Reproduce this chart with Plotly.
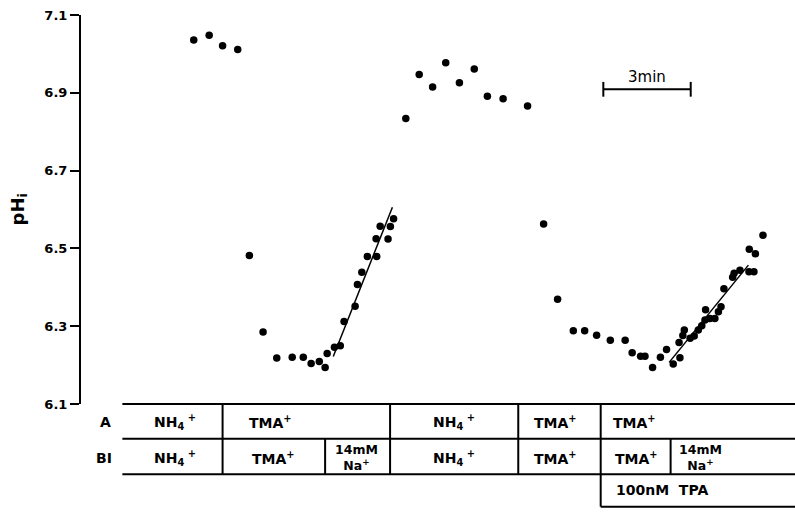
import plotly.graph_objects as go

# ---------------- data (time in minutes, pHi) ----------------
t_pts = [3.87, 4.40, 4.86, 5.38,
         5.78, 6.25, 6.72, 7.25, 7.63, 7.90, 8.18, 8.38, 8.45, 8.70, 8.90, 9.03,
         9.41, 9.49, 9.64, 9.83, 10.15, 10.13, 10.54, 10.27, 10.62, 10.73,
         11.15, 11.61, 12.07, 12.52, 12.99, 13.50, 13.95, 14.49, 15.33,
         15.88, 16.36, 16.90, 17.29, 17.70, 18.17, 18.68, 18.92, 19.21, 19.36,
         19.62, 19.89, 20.10, 20.33, 20.56, 20.53, 20.66, 20.71, 20.91, 21.05,
         21.19, 21.31, 21.42, 21.44, 21.59, 21.76, 21.88, 21.97, 22.07, 22.37,
         22.42, 22.62, 22.93, 23.10, 22.94, 23.15, 23.41]
ph_pts = [7.036, 7.048, 7.021, 7.011,
          6.482, 6.285, 6.218, 6.220, 6.220, 6.204, 6.209, 6.194, 6.230, 6.246, 6.250, 6.312,
          6.351, 6.407, 6.439, 6.479, 6.479, 6.525, 6.524, 6.557, 6.556, 6.576,
          6.834, 6.947, 6.915, 6.977, 6.926, 6.961, 6.891, 6.885, 6.866,
          6.563, 6.369, 6.288, 6.288, 6.277, 6.264, 6.264, 6.232, 6.223, 6.223,
          6.194, 6.220, 6.240, 6.203, 6.219, 6.258, 6.276, 6.290, 6.269, 6.275,
          6.290, 6.301, 6.316, 6.342, 6.320, 6.320, 6.337, 6.350, 6.396, 6.426,
          6.436, 6.444, 6.440, 6.440, 6.498, 6.486, 6.534]

fit1_t = [8.66, 10.69]
fit1_ph = [6.222, 6.606]
fit2_t = [20.19, 22.91]
fit2_ph = [6.207, 6.457]

scale_t = [17.93, 20.93]   # 3 min scale bar
scale_ph = 6.909
scale_label = "3min"

y_ticks = [6.1, 6.3, 6.5, 6.7, 6.9, 7.1]
x_range = [0, 24.51]

# solution protocol table (time boundaries, minutes)
table_start = 1.42
rowA_bounds = [4.86, 10.61, 15.01, 17.84]
rowB_bounds = [4.86, 8.38, 10.61, 15.01, 17.84, 20.24]
rowC_start = 17.84
rowA_text = [(3.24, "NH<sub>4</sub><sup> +</sup>"), (6.52, "TMA<sup>+</sup>"),
             (12.82, "NH<sub>4</sub><sup> +</sup>"), (16.30, "TMA<sup>+</sup>"),
             (19.00, "TMA<sup>+</sup>")]
rowB_text = [(3.24, "NH<sub>4</sub><sup> +</sup>"), (6.61, "TMA<sup>+</sup>"),
             (9.47, "14mM<br>Na<sup>+</sup>"), (12.82, "NH<sub>4</sub><sup> +</sup>"),
             (16.30, "TMA<sup>+</sup>"), (19.06, "TMA<sup>+</sup>"),
             (21.26, "14mM<br>Na<sup>+</sup>")]
rowC_text = [(19.95, "100nM  TPA")]
row_labels = ["A", "BI"]

# ---------------- figure ----------------
W, H = 795, 512
ML, MR, MT, MB = 81, 0, 15, 108
plot_h = H - MT - MB

def px_x(t):
    return (t - x_range[0]) / (x_range[1] - x_range[0])

def py(pix_below_top_of_table):
    return -pix_below_top_of_table / plot_h

fig = go.Figure()
fig.add_trace(go.Scatter(x=t_pts, y=ph_pts, mode="markers",
                         marker=dict(color="black", size=7.5), cliponaxis=False,
                         showlegend=False))
fig.add_trace(go.Scatter(x=fit1_t, y=fit1_ph, mode="lines",
                         line=dict(color="black", width=1.5), showlegend=False))
fig.add_trace(go.Scatter(x=fit2_t, y=fit2_ph, mode="lines",
                         line=dict(color="black", width=1.5), showlegend=False))

shapes = []
line_style = dict(color="black", width=2)
# scale bar
shapes.append(dict(type="line", xref="x", yref="y", x0=scale_t[0], x1=scale_t[1],
                   y0=scale_ph, y1=scale_ph, line=line_style))
for st in scale_t:
    shapes.append(dict(type="line", xref="x", yref="y", x0=st, x1=st,
                       y0=scale_ph - 0.019, y1=scale_ph + 0.019, line=line_style))

yA_top, yA_bot, yB_bot, yC_bot = py(0), py(34.7), py(70.3), py(102.7)
for yy in (yA_top, yA_bot, yB_bot):
    shapes.append(dict(type="line", xref="paper", yref="paper",
                       x0=px_x(table_start), x1=1.0, y0=yy, y1=yy, line=line_style))
shapes.append(dict(type="line", xref="paper", yref="paper",
                   x0=px_x(rowC_start), x1=1.0, y0=yC_bot, y1=yC_bot, line=line_style))
for b in rowA_bounds:
    shapes.append(dict(type="line", xref="paper", yref="paper", x0=px_x(b), x1=px_x(b),
                       y0=yA_top, y1=yA_bot, line=line_style))
for b in rowB_bounds:
    shapes.append(dict(type="line", xref="paper", yref="paper", x0=px_x(b), x1=px_x(b),
                       y0=yA_bot, y1=yB_bot, line=line_style))
shapes.append(dict(type="line", xref="paper", yref="paper", x0=px_x(rowC_start),
                   x1=px_x(rowC_start), y0=yB_bot, y1=yC_bot, line=line_style))

FONT = "DejaVu Sans"
ann = []
def add_text(xp, yp, text, size=14, bold=True):
    ann.append(dict(xref="paper", yref="paper", x=xp, y=yp, text=(f"<b>{text}</b>" if bold else text),
                    showarrow=False, xanchor="center", yanchor="middle",
                    font=dict(family=FONT, size=size, color="black")))

yA_mid, yB_mid, yC_mid = py(18), py(53.5), py(86.5)
for t, s in rowA_text:
    add_text(px_x(t), yA_mid, s)
for t, s in rowB_text:
    if "14mM" in s:
        ann.append(dict(xref="paper", yref="paper", x=px_x(t), y=yB_mid, text=f"<b>{s}</b>",
                        showarrow=False, xanchor="center", yanchor="middle",
                        font=dict(family=FONT, size=12.5, color="black")))
    else:
        add_text(px_x(t), yB_mid, s)
for t, s in rowC_text:
    add_text(px_x(t), yC_mid, s)
add_text((105 - ML) / (W - ML), yA_mid, row_labels[0])
add_text((104 - ML) / (W - ML), yB_mid, row_labels[1])

# scale label
ann.append(dict(xref="x", yref="y", x=(scale_t[0] + scale_t[1]) / 2, y=scale_ph + 0.031,
                text=scale_label, showarrow=False, yanchor="middle",
                font=dict(family=FONT, size=15, color="black")))
# y-axis title
ann.append(dict(xref="paper", yref="paper", x=(18 - ML) / (W - ML), y=0.5,
                text="<b>pH<sub>i</sub></b>", textangle=-90, showarrow=False,
                xanchor="center", yanchor="middle",
                font=dict(family=FONT, size=18, color="black")))

fig.update_layout(
    width=W, height=H, margin=dict(l=ML, r=MR, t=MT, b=MB),
    paper_bgcolor="white", plot_bgcolor="white",
    shapes=shapes, annotations=ann, showlegend=False,
    xaxis=dict(range=x_range, visible=False),
    yaxis=dict(range=[y_ticks[0], y_ticks[-1]], tickvals=y_ticks,
               ticktext=[f"<b>{v:.1f}</b>" for v in y_ticks],
               showline=True, linecolor="black", linewidth=2,
               ticks="outside", ticklen=9, tickwidth=2, tickcolor="black",
               showgrid=False, zeroline=False,
               tickfont=dict(family=FONT, size=13, color="black")),
)

fig.write_html("out.html")
